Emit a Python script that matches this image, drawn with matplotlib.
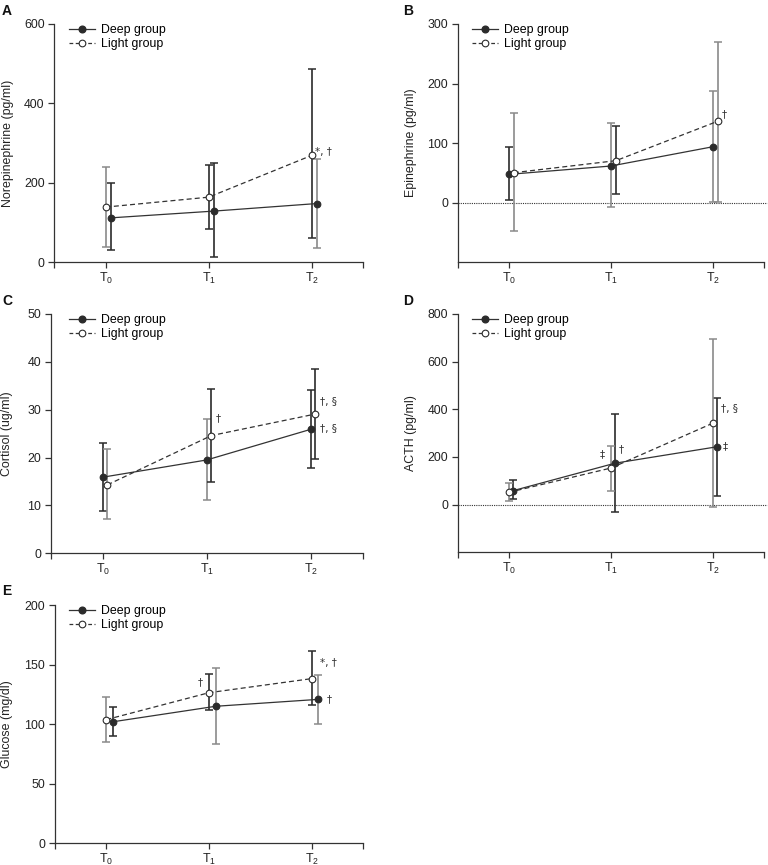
import matplotlib
matplotlib.use("Agg")
import matplotlib.pyplot as plt
from matplotlib.lines import Line2D
import numpy as np

plt.rcParams['font.family'] = ['Liberation Sans', 'DejaVu Sans']
plt.rcParams['mathtext.fontset'] = 'custom'
plt.rcParams['mathtext.rm'] = 'Liberation Sans'
plt.rcParams['mathtext.it'] = 'Liberation Sans'

# ---------------- data ----------------
timepoints = ['$\\mathregular{T_0}$', '$\\mathregular{T_1}$', '$\\mathregular{T_2}$']
legend_labels = ['Deep group', 'Light group']
panel_letters = ['A', 'B', 'C', 'D', 'E']
ylabels = ['Norepinephrine (pg/ml)', 'Epinephrine (pg/ml)', 'Cortisol (ug/ml)',
           'ACTH (pg/ml)', 'Glucose (mg/dl)']

# A: Norepinephrine
ne_deep = [112, 129, 148]
ne_deep_lo = [31, 14, 35]
ne_deep_hi = [200, 249, 261]
ne_light = [139, 164, 269]
ne_light_lo = [39, 85, 62]
ne_light_hi = [240, 245, 486]

# B: Epinephrine
ep_deep = [47.6, 61.6, 94]
ep_deep_lo = [5, -6.7, 1]
ep_deep_hi = [93.6, 133, 187.7]
ep_light = [50.4, 70.6, 137]
ep_light_lo = [-47.6, 14.6, 1]
ep_light_hi = [150, 129, 270.6]

# C: Cortisol
co_deep = [15.9, 19.5, 25.9]
co_deep_lo = [8.8, 11.2, 17.8]
co_deep_hi = [23.1, 28.0, 34.1]
co_light = [14.3, 24.6, 29.1]
co_light_lo = [7.1, 15.0, 19.6]
co_light_hi = [21.7, 34.4, 38.6]

# D: ACTH
ac_deep = [58.6, 174, 243]
ac_deep_lo = [23.7, -29, 38]
ac_deep_hi = [102, 381, 449]
ac_light = [51.6, 153.5, 342]
ac_light_lo = [16.7, 58.6, -10]
ac_light_hi = [90.7, 244, 694]

# E: Glucose
gl_deep = [102, 115, 120.8]
gl_deep_lo = [89.8, 83, 99.9]
gl_deep_hi = [114, 147.4, 141.5]
gl_light = [103.8, 126.4, 138.2]
gl_light_lo = [85.3, 111.6, 115.8]
gl_light_hi = [123, 142.4, 161]

# significance marks: (x, y, text)
marks_A = [(2.12, 278, '*, †')]
marks_B = [(2.11, 148, '†')]
marks_C = [(1.11, 28.2, '†'), (2.17, 31.6, '†, §'), (2.17, 25.9, '†, §')]
marks_D = [(0.92, 212, '‡'), (1.10, 232, '†'), (2.16, 400, '†, §'), (2.12, 244, '‡')]
marks_E = [(0.92, 135, '†'), (2.16, 151, '*, †'), (2.17, 121, '†')]

# ---------------- styles ----------------
DARK = '#2b2b2b'
GRAY = '#8a8a8a'
panels = [
    dict(deep=(ne_deep, ne_deep_lo, ne_deep_hi), light=(ne_light, ne_light_lo, ne_light_hi),
         yl=(0, 600), yt=[0, 200, 400, 600], zero=False, doff=0.055, loff=0.0,
         dcol=[DARK, DARK, GRAY], lcol=[GRAY, DARK, DARK], marks=marks_A,
         rect=[54.3, 24, 363, 262.3], letter=(2, 4), ylx=7.5),
    dict(deep=(ep_deep, ep_deep_lo, ep_deep_hi), light=(ep_light, ep_light_lo, ep_light_hi),
         yl=(-100, 300), yt=[0, 100, 200, 300], zero=True, doff=0.0, loff=0.05,
         dcol=[DARK, GRAY, GRAY], lcol=[GRAY, DARK, GRAY], marks=marks_B,
         rect=[457.7, 24, 764, 262.3], letter=(403, 4), ylx=411),
    dict(deep=(co_deep, co_deep_lo, co_deep_hi), light=(co_light, co_light_lo, co_light_hi),
         yl=(0, 50), yt=[0, 10, 20, 30, 40, 50], zero=False, doff=0.0, loff=0.045,
         dcol=[DARK, GRAY, DARK], lcol=[GRAY, DARK, DARK], marks=marks_C,
         rect=[50.7, 314, 362.7, 553.3], letter=(2, 294), ylx=7.5),
    dict(deep=(ac_deep, ac_deep_lo, ac_deep_hi), light=(ac_light, ac_light_lo, ac_light_hi),
         yl=(-200, 800), yt=[0, 200, 400, 600, 800], zero=True, doff=0.042, loff=0.0,
         dcol=[DARK, DARK, DARK], lcol=[GRAY, GRAY, GRAY], marks=marks_D,
         rect=[457.7, 314, 764, 552.3], letter=(403, 294), ylx=411),
    dict(deep=(gl_deep, gl_deep_lo, gl_deep_hi), light=(gl_light, gl_light_lo, gl_light_hi),
         yl=(0, 200), yt=[0, 50, 100, 150, 200], zero=False, doff=0.065, loff=0.0,
         dcol=[DARK, GRAY, GRAY], lcol=[GRAY, DARK, DARK], marks=marks_E,
         rect=[55, 605, 363, 843.3], letter=(2, 584), ylx=7.5),
]

W, H = 768, 865
fig = plt.figure(figsize=(W / 100, H / 100), dpi=100)
FS = 8.9

for i, p in enumerate(panels):
    l, t, r, b = p['rect']
    ax = fig.add_axes([l / W, 1 - b / H, (r - l) / W, (b - t) / H])
    x = np.arange(len(timepoints))
    for key, off, cols, ls, mfc in (('deep', p['doff'], p['dcol'], '-', DARK),
                                    ('light', p['loff'], p['lcol'], '--', 'white')):
        m, lo, hi = (np.array(v, dtype=float) for v in p[key])
        xx = x + off
        for j in range(len(x)):
            ax.errorbar(xx[j], m[j], yerr=[[m[j] - lo[j]], [hi[j] - m[j]]], fmt='none',
                        ecolor=cols[j], elinewidth=1.2, capsize=3.0, capthick=1.1, zorder=2)
        ax.plot(xx, m, linestyle=ls, color='#333333', linewidth=0.9, zorder=3,
                dashes=(4, 2.5) if ls == '--' else (None, None))
        ax.plot(xx, m, linestyle='none', marker='o', markersize=4.8, markerfacecolor=mfc,
                markeredgecolor=DARK, markeredgewidth=0.8, zorder=4)
    if p['zero']:
        ax.axhline(0, color='#333333', linestyle=(0, (1, 1)), linewidth=0.8, zorder=1,
                   clip_on=False, xmax=1.01)
    ax.set_xlim(-0.5, 2.5)
    ax.set_ylim(*p['yl'])
    ax.set_yticks(p['yt'])
    ax.set_xticks(x)
    ax.set_xticklabels(timepoints)
    ax.set_xticks([-0.5, 2.5], minor=True)
    for s in ('top', 'right'):
        ax.spines[s].set_visible(False)
    for s in ('left', 'bottom'):
        ax.spines[s].set_linewidth(0.9)
        ax.spines[s].set_color('#333333')
    ax.tick_params(axis='both', which='both', direction='out', length=4, width=0.9,
                   colors='#333333', labelsize=FS, labelcolor='#222222', pad=3)
    ax.tick_params(axis='x', pad=2)
    ax.set_ylabel(ylabels[i], fontsize=FS, color='#222222', va='center')
    ax.yaxis.set_label_coords((p['ylx'] - l) / (r - l), 0.5)
    handles = [Line2D([], [], color='#333333', linestyle='-', linewidth=0.9, marker='o',
                      markersize=4.8, markerfacecolor=DARK, markeredgecolor=DARK),
               Line2D([], [], color='#333333', linestyle='--', linewidth=0.9, marker='o',
                      markersize=4.8, markerfacecolor='white', markeredgecolor=DARK,
                      markeredgewidth=0.8, dashes=(3, 2))]
    ax.legend(handles, legend_labels, loc='upper left',
              bbox_to_anchor=((69 - l) / (r - l) if l < 300 else (472 - l) / (r - l), 1.0),
              frameon=False, fontsize=FS, handlelength=2.1, handletextpad=0.5,
              borderaxespad=0, borderpad=0, labelspacing=0.15)
    for (mx, my, mt) in p['marks']:
        ax.text(mx, my, mt, fontsize=7.5, color='#333333', ha='center', va='center',
                family=['DejaVu Sans'])
    lx, ly = p['letter']
    fig.text(lx / W, 1 - ly / H, panel_letters[i], fontsize=10, fontweight='bold',
             ha='left', va='top', color='#111111')

fig.savefig('out.png', dpi=100)
